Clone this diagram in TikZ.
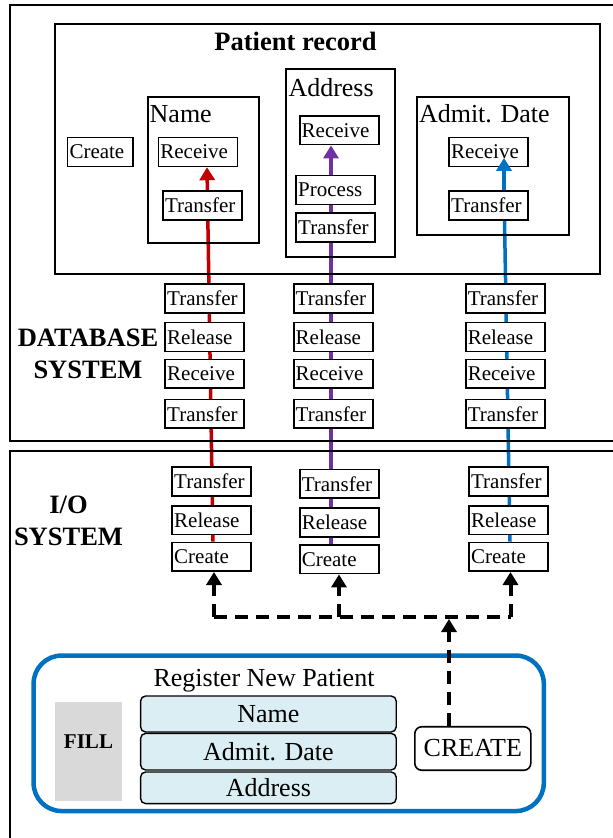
\documentclass[tikz,border=0pt]{standalone}
\usepackage{fontspec}
\setmainfont{Liberation Serif}
\usepackage{tikz}
\usepackage{xcolor}
\definecolor{flowred}{HTML}{C00000}
\definecolor{flowpurple}{HTML}{7030A0}
\definecolor{flowblue}{HTML}{0070C0}
\definecolor{fieldblue}{HTML}{DAEEF3}
\definecolor{fillgray}{HTML}{D9D9D9}
\tikzstyle{act} = [rectangle, draw=black, line width=1.6pt, fill=white, text width=75pt, inner xsep=2pt, inner ysep=0pt, minimum height=28.8pt, align=left, font=\fontsize{21}{24}\selectfont]
\tikzstyle{frame} = [rectangle, draw=black, line width=1.8pt]
\tikzstyle{head} = [inner sep=0pt, anchor=base west, font=\fontsize{26}{30}\selectfont]
\tikzstyle{sys} = [inner sep=0pt, anchor=north, align=center, font=\fontsize{26.5}{32}\selectfont\bfseries]
\tikzstyle{field} = [rectangle, rounded corners=5pt, draw=black, line width=1.4pt, fill=fieldblue, minimum width=255.6pt, font=\fontsize{26}{30}\selectfont]
\tikzstyle{flow} = [line width=3.5pt, -{Triangle[width=15pt,length=13pt]}]
\tikzstyle{dashline} = [line width=4pt, dash pattern=on 13pt off 8pt]
\tikzstyle{dasharrow} = [dashline, -{Triangle[width=15pt,length=13pt]}]
\usetikzlibrary{arrows.meta,backgrounds}

\begin{document}
\begin{tikzpicture}[x=1pt, y=-1pt]
        \useasboundingbox (0,0) rectangle (613,838);

        % the two systems
        \node[frame, line width=2pt, anchor=north west, minimum width=620pt, minimum height=436pt] (db) at (8.6,3.5) {};
        \node[frame, line width=2pt, anchor=north west, minimum width=620pt, minimum height=400pt] (io) at (8.6,450.3) {};
        \node[sys] (dblbl) at (88,328.5) {DATABASE\\SYSTEM};
        \node[sys] (iolbl) at (68.5,495.8) {I/O\\SYSTEM};

        % patient record
        \node[frame, minimum width=545pt, minimum height=250pt] (rec) at (327.2,149) {};
        \node[sys, anchor=base] (rectitle) at (295.5,50) {Patient record};
        \node[act, text width=61.4pt] (crec) at (100.2,152) {Create};

        \node[frame, minimum width=111.7pt, minimum height=145.7pt] (namebox) at (203.5,169.9) {};
        \node[head] (namelbl) at (149.5,122.7) {Name};
        \node[act] (nrec) at (197.9,152) {Receive};
        \node[act] (ntr) at (202.5,205.3) {Transfer};

        \node[frame, minimum width=108.7pt, minimum height=187.7pt] (addrbox) at (340.7,162.9) {};
        \node[head] (addrlbl) at (288.3,96) {Address};
        \node[act] (arec) at (339.2,130.2) {Receive};
        \node[act] (apro) at (335.7,190) {Process};
        \node[act] (atr) at (335.7,227.5) {Transfer};

        \node[frame, minimum width=152pt, minimum height=138.3pt] (datebox) at (492.8,166.2) {};
        \node[head] (datelbl) at (418.8,122.7) {Admit. Date};
        \node[act] (drec) at (488.7,152) {Receive};
        \node[act] (dtr) at (488.7,205.3) {Transfer};

        % database columns
        \node[act] (t1a) at (204.7,298.5) {Transfer};
        \node[act] (r1a) at (204.7,337) {Release};
        \node[act] (v1a) at (204.7,373.8) {Receive};
        \node[act] (t1b) at (204.7,413.8) {Transfer};

        \node[act] (t2a) at (333.2,298.5) {Transfer};
        \node[act] (r2a) at (333.2,337) {Release};
        \node[act] (v2a) at (333.2,373.8) {Receive};
        \node[act] (t2b) at (333.2,413.8) {Transfer};

        \node[act] (t3a) at (505.3,298.5) {Transfer};
        \node[act] (r3a) at (505.3,337) {Release};
        \node[act] (v3a) at (505.3,373.8) {Receive};
        \node[act] (t3b) at (505.3,413.8) {Transfer};

        % i/o columns
        \node[act] (it1) at (211.7,481.3) {Transfer};
        \node[act] (ir1) at (211.7,520.2) {Release};
        \node[act] (ic1) at (211.7,556.8) {Create};

        \node[act] (it2) at (339.3,483.8) {Transfer};
        \node[act] (ir2) at (339.3,522.5) {Release};
        \node[act] (ic2) at (339.3,559.2) {Create};

        \node[act] (it3) at (508.6,481.3) {Transfer};
        \node[act] (ir3) at (508.6,520.2) {Release};
        \node[act] (ic3) at (508.6,556.8) {Create};

        % register form
        \node[draw=flowblue, line width=4.5pt, rounded corners=28pt, minimum width=510.2pt, minimum height=155.5pt] (reg) at (288.7,733.3) {};
        \node[head, anchor=base] (reglbl) at (264,686.7) {Register New Patient};
        \node[fill=fillgray, minimum width=67pt, minimum height=98.7pt, text height=14pt, text depth=20.8pt, font=\fontsize{21}{24}\selectfont\bfseries] (fill) at (88.5,751.4) {FILL};
        \node[field, minimum height=36pt] (fname) at (268.4,714) {Name};
        \node[field, minimum height=36.6pt] (fdate) at (268.4,751.7) {Admit. Date};
        \node[field, minimum height=31.6pt] (faddr) at (268.4,787.8) {Address};
        \node[draw, line width=1.6pt, rounded corners=7pt, minimum width=116pt, minimum height=43.5pt, font=\fontsize{26}{30}\selectfont] (create) at (472.8,748.5) {CREATE};

        % flows
        \begin{pgfonlayer}{background}
        \draw[flow, flowred] ([xshift=1.3pt]ic1.north) -- ([xshift=9.1pt]nrec.south);
        \draw[flow, flowpurple] ([xshift=-8.3pt]ic2.north) -- ([xshift=-8.2pt]arec.south);
        \draw[line width=3.5pt, flowblue] ([xshift=1.4pt]ic3.north) -- ([xshift=15.3pt]dtr.north);
        \end{pgfonlayer}
        \draw[flow, flowblue] ([xshift=15.3pt]dtr.north) -- ([xshift=15.3pt, yshift=9.3pt]drec.south);

        \coordinate (j1) at (214,616.7);
        \coordinate (j2) at (339,616.7);
        \coordinate (j3) at (510.5,616.7);
        \coordinate (hub) at (449,619);
        \draw[dashline] (j1) -- (j3);
        \draw[dasharrow] (j1) -- (j1 |- ic1.south);
        \draw[dasharrow] (j2) -- (j2 |- ic2.south);
        \draw[dasharrow] (j3) -- (j3 |- ic3.south);
        \draw[dasharrow] (hub |- create.north) -- (hub);

    \end{tikzpicture}
\end{document}
